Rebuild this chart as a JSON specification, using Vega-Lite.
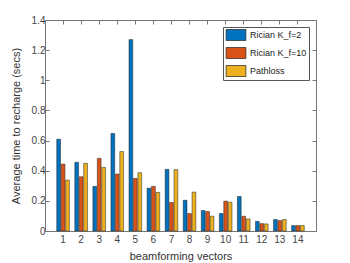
{
  "$schema": "https://vega.github.io/schema/vega-lite/v6.json",
  "width": 271,
  "height": 211,
  "autosize": {"type": "none"},
  "padding": {"left": 45, "top": 20, "right": 34, "bottom": 32},
  "background": "white",
  "config": {
    "font": "Liberation Sans",
    "view": {"stroke": "#777", "strokeWidth": 1},
    "axis": {"labelColor": "#444", "titleColor": "#333", "domain": false, "grid": false, "tickColor": "#777", "tickSize": -4, "labelFontSize": 10, "titleFontSize": 11, "titleFontWeight": "normal", "labelFont": "Liberation Sans", "titleFont": "Liberation Sans"}
  },
  "data": {"values": [
    {"v": 1, "s": "Rician K_f=2", "y": 0.609}, {"v": 1, "s": "Rician K_f=10", "y": 0.444}, {"v": 1, "s": "Pathloss", "y": 0.338},
    {"v": 2, "s": "Rician K_f=2", "y": 0.456}, {"v": 2, "s": "Rician K_f=10", "y": 0.36}, {"v": 2, "s": "Pathloss", "y": 0.449},
    {"v": 3, "s": "Rician K_f=2", "y": 0.296}, {"v": 3, "s": "Rician K_f=10", "y": 0.482}, {"v": 3, "s": "Pathloss", "y": 0.422},
    {"v": 4, "s": "Rician K_f=2", "y": 0.647}, {"v": 4, "s": "Rician K_f=10", "y": 0.378}, {"v": 4, "s": "Pathloss", "y": 0.527},
    {"v": 5, "s": "Rician K_f=2", "y": 1.27}, {"v": 5, "s": "Rician K_f=10", "y": 0.349}, {"v": 5, "s": "Pathloss", "y": 0.387},
    {"v": 6, "s": "Rician K_f=2", "y": 0.284}, {"v": 6, "s": "Rician K_f=10", "y": 0.296}, {"v": 6, "s": "Pathloss", "y": 0.256},
    {"v": 7, "s": "Rician K_f=2", "y": 0.409}, {"v": 7, "s": "Rician K_f=10", "y": 0.189}, {"v": 7, "s": "Pathloss", "y": 0.407},
    {"v": 8, "s": "Rician K_f=2", "y": 0.204}, {"v": 8, "s": "Rician K_f=10", "y": 0.116}, {"v": 8, "s": "Pathloss", "y": 0.258},
    {"v": 9, "s": "Rician K_f=2", "y": 0.136}, {"v": 9, "s": "Rician K_f=10", "y": 0.129}, {"v": 9, "s": "Pathloss", "y": 0.098},
    {"v": 10, "s": "Rician K_f=2", "y": 0.116}, {"v": 10, "s": "Rician K_f=10", "y": 0.198}, {"v": 10, "s": "Pathloss", "y": 0.191},
    {"v": 11, "s": "Rician K_f=2", "y": 0.229}, {"v": 11, "s": "Rician K_f=10", "y": 0.098}, {"v": 11, "s": "Pathloss", "y": 0.08},
    {"v": 12, "s": "Rician K_f=2", "y": 0.064}, {"v": 12, "s": "Rician K_f=10", "y": 0.049}, {"v": 12, "s": "Pathloss", "y": 0.047},
    {"v": 13, "s": "Rician K_f=2", "y": 0.076}, {"v": 13, "s": "Rician K_f=10", "y": 0.069}, {"v": 13, "s": "Pathloss", "y": 0.076},
    {"v": 14, "s": "Rician K_f=2", "y": 0.036}, {"v": 14, "s": "Rician K_f=10", "y": 0.036}, {"v": 14, "s": "Pathloss", "y": 0.036}
  ]},
  "encoding": {
    "x": {"field": "v", "type": "ordinal", "scale": {"paddingInner": 0.3, "paddingOuter": 0.65}},
    "xOffset": {"field": "s", "type": "nominal", "scale": {"domain": ["Rician K_f=2", "Rician K_f=10", "Pathloss"], "paddingInner": 0.15}},
    "y": {"field": "y", "type": "quantitative", "scale": {"domain": [0, 1.4], "nice": false, "zero": true}}
  },
  "layer": [
    {
      "mark": {"type": "bar", "stroke": "#222", "strokeWidth": 0.5},
      "encoding": {
        "x": {"field": "v", "type": "ordinal", "axis": {"orient": "bottom", "title": "beamforming vectors", "labelAngle": 0, "labelPadding": 7, "titlePadding": 6}},
        "y": {"field": "y", "type": "quantitative", "axis": {"orient": "left", "title": "Average time to recharge (secs)", "values": [0, 0.2, 0.4, 0.6, 0.8, 1, 1.2, 1.4], "format": "~g", "labelPadding": 4, "titlePadding": 10}},
        "color": {"field": "s", "type": "nominal", "scale": {"domain": ["Rician K_f=2", "Rician K_f=10", "Pathloss"], "range": ["#0072BD", "#D95319", "#EDB120"]},
          "legend": {"title": null, "orient": "top-right", "offset": 7, "fillColor": "white", "strokeColor": "#555", "padding": 2, "labelFontSize": 9, "labelColor": "#222", "symbolType": "M-1.8,-1H1.8V1H-1.8Z", "symbolSize": 121, "symbolOffset": 5, "symbolStrokeColor": "#222", "symbolStrokeWidth": 0.7, "symbolOpacity": 1, "rowPadding": 4, "labelOffset": 8}}
      }
    },
    {
      "mark": {"type": "bar", "opacity": 0},
      "encoding": {
        "x": {"field": "v", "type": "ordinal", "axis": {"orient": "top", "title": null, "labels": false}},
        "y": {"field": "y", "type": "quantitative", "axis": {"orient": "right", "title": null, "labels": false, "values": [0, 0.2, 0.4, 0.6, 0.8, 1, 1.2, 1.4]}}
      }
    }
  ],
  "resolve": {"axis": {"x": "independent", "y": "independent"}}
}
